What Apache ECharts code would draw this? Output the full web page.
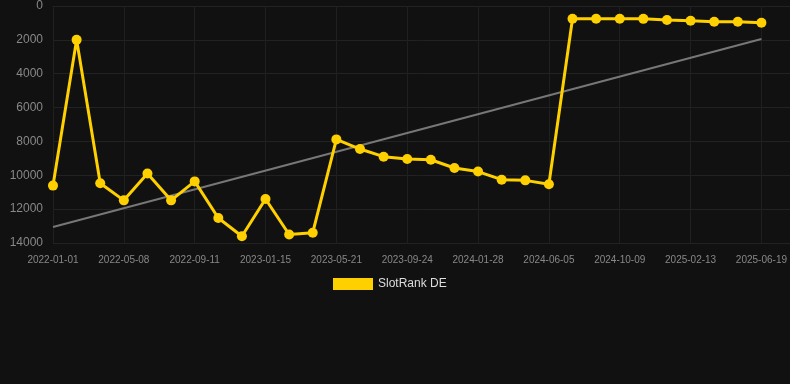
<!DOCTYPE html>
<html>
<head>
<meta charset="utf-8">
<script src="https://cdn.jsdelivr.net/npm/echarts@6/dist/echarts.min.js"></script>
<style>
html,body{margin:0;padding:0;background:#111111;}
#c{width:790px;height:384px;}
</style>
</head>
<body>
<div id="c"></div>
<script>
var categories = [
  "2022-01-01","2022-02-12","2022-03-26","2022-05-08","2022-06-19","2022-07-31",
  "2022-09-11","2022-10-23","2022-12-04","2023-01-15","2023-02-26","2023-04-09",
  "2023-05-21","2023-07-02","2023-08-13","2023-09-24","2023-11-05","2023-12-17",
  "2024-01-28","2024-03-10","2024-04-23","2024-06-05","2024-07-17","2024-08-28",
  "2024-10-09","2024-11-20","2025-01-01","2025-02-13","2025-03-27","2025-05-08",
  "2025-06-19"
];
var rankValues = [
  10610, 2000, 10470, 11480, 9890, 11480,
  10360, 12520, 13600, 11400, 13500, 13390,
  7880, 8450, 8900, 9040, 9080, 9570,
  9780, 10260, 10300, 10530, 750, 750,
  750, 760, 830, 870, 930, 930,
  990
];
var trendValues = [13050].concat(new Array(29).fill(null)).concat([1950]);
var seriesName = "SlotRank DE";

var font = 'Liberation Sans, Arial, sans-serif';
var chart = echarts.init(document.getElementById('c'), null, {renderer:'canvas'});
chart.setOption({
  backgroundColor: '#111111',
  animation: false,
  grid: [
    {left: 53, right: 27, top: 6, bottom: 141, containLabel: false},
    {left: 53, right: 0, top: 6, bottom: 141, containLabel: false}
  ],
  legend: {
    data: [seriesName],
    top: 273,
    left: 328,
    icon: 'rect',
    itemWidth: 40,
    itemHeight: 12,
    itemGap: 10,
    textStyle: {color: '#dddddd', fontSize: 12, fontFamily: font}
  },
  xAxis: [
    {
      type: 'category',
      gridIndex: 0,
      data: categories,
      boundaryGap: false,
      axisLine: {show: true, lineStyle: {color: '#222222'}},
      axisTick: {show: false},
      axisLabel: {interval: 2, color: '#888888', fontSize: 10, margin: 12, fontFamily: font},
      splitLine: {show: true, interval: 2, lineStyle: {color: '#1f1f1f', width: 1}}
    },
    {
      type: 'value',
      gridIndex: 1,
      show: false,
      min: 0,
      max: 1
    }
  ],
  yAxis: [
    {
      type: 'value',
      gridIndex: 0,
      inverse: true,
      min: 0,
      max: 14000,
      interval: 2000,
      axisLine: {show: false},
      axisTick: {show: false},
      axisLabel: {color: '#888888', fontSize: 12, margin: 10, fontFamily: font,
        formatter: function (v) { return String(v); }},
      splitLine: {show: false}
    },
    {
      type: 'value',
      gridIndex: 1,
      inverse: true,
      min: 0,
      max: 14000,
      interval: 2000,
      axisLine: {show: false},
      axisTick: {show: false},
      axisLabel: {show: false},
      splitLine: {show: true, lineStyle: {color: '#222222', width: 1}}
    }
  ],
  series: [
    {
      name: 'trend',
      type: 'line',
      data: trendValues,
      connectNulls: true,
      symbol: 'none',
      lineStyle: {color: '#777777', width: 2},
      itemStyle: {color: '#777777'},
      silent: true,
      z: 1
    },
    {
      name: seriesName,
      type: 'line',
      data: rankValues,
      symbol: 'circle',
      symbolSize: 10,
      lineStyle: {color: '#FFD000', width: 3},
      itemStyle: {color: '#FFD000'},
      z: 2
    }
  ]
});
</script>
</body>
</html>
